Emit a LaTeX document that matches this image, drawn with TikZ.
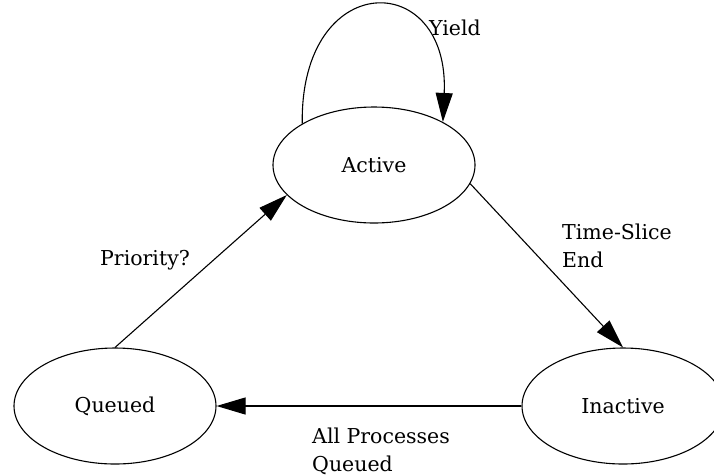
\documentclass[tikz,border=0pt]{standalone}
\usepackage{fontspec}
\setmainfont{DejaVu Serif}
\usetikzlibrary{shapes.geometric,arrows.meta}
\tikzset{
  state/.style={draw, ellipse, minimum width=202pt, minimum height=116pt, inner sep=0pt, line width=1.1pt},
  edge/.style={line width=1.1pt, -{Triangle[length=29pt,width=17pt]}},
  lbl/.style={inner sep=0pt, align=left}
}
\begin{document}
\begin{tikzpicture}[x=1pt,y=-1pt,font=\fontsize{20.5}{28}\selectfont]
  \useasboundingbox (0,0) rectangle (714,475);
  % states
  \node[state] (active)   at (374,165) {Active};
  \node[state] (queued)   at (115,406) {Queued};
  \node[state] (inactive) at (623,406) {Inactive};
  % transitions
  \draw[edge] (active.150.6) .. controls (300,-32) and (450,-32) .. (active.32.7);
  \draw[edge] (active.-11.5) -- (inactive.north);
  \draw[edge] (inactive.west) -- (queued.east);
  \draw[edge] (queued.north) -- (active.199);
  % labels
  \node[lbl] (yield) at (455,28) {Yield};
  \node[lbl, anchor=west] (tslice) at (562,246) {Time-Slice\\End};
  \node[lbl, anchor=west] (allq) at (312,451) {All Processes\\Queued};
  \node[lbl] (prio) at (145,260) {Priority?};
\end{tikzpicture}
\end{document}
